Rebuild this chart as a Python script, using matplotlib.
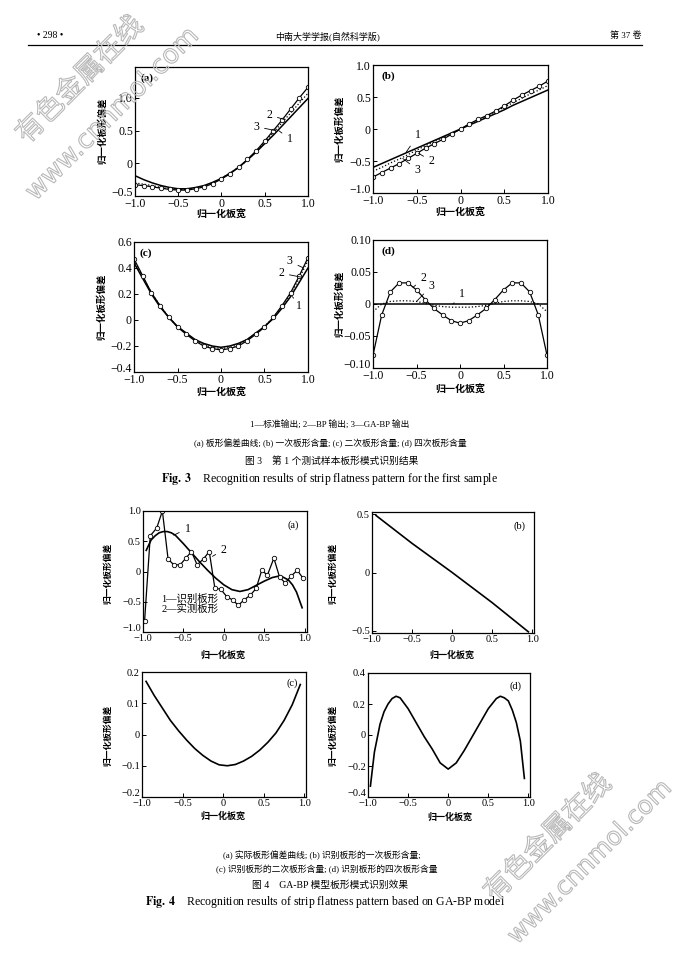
import matplotlib
matplotlib.use("Agg")
import matplotlib.pyplot as plt
import matplotlib.patheffects as pe
from matplotlib.transforms import ScaledTranslation

plt.rcParams['font.family'] = ['Liberation Serif', 'Noto Sans CJK SC']
plt.rcParams['mathtext.fontset'] = 'stix'
plt.rcParams['axes.unicode_minus'] = True

W, H = 680, 961

# ---- data, fig 3 (first test sample) ----
X3 = [-1.0, -0.9, -0.8, -0.7, -0.6, -0.5, -0.4, -0.3, -0.2, -0.1, 0.0,
      0.1, 0.2, 0.3, 0.4, 0.5, 0.6, 0.7, 0.8, 0.9, 1.0]

A_STD = [-0.19, -0.25, -0.30, -0.34, -0.37, -0.39, -0.39, -0.37, -0.34, -0.29, -0.23,
         -0.15, -0.06, 0.05, 0.17, 0.30, 0.43, 0.57, 0.71, 0.85, 0.99]
A_BP = [-0.33, -0.34, -0.36, -0.38, -0.40, -0.41, -0.41, -0.39, -0.36, -0.31, -0.24,
        -0.16, -0.06, 0.06, 0.19, 0.34, 0.50, 0.66, 0.83, 1.00, 1.16]
A_GA = [-0.30, -0.32, -0.34, -0.37, -0.39, -0.40, -0.40, -0.38, -0.35, -0.30, -0.23,
        -0.15, -0.06, 0.05, 0.18, 0.32, 0.47, 0.62, 0.77, 0.92, 1.07]

B_STD = [-0.60, -0.54, -0.48, -0.42, -0.36, -0.30, -0.24, -0.18, -0.12, -0.06, 0.00,
         0.06, 0.12, 0.18, 0.24, 0.30, 0.37, 0.43, 0.49, 0.55, 0.61]
B_BP = [-0.75, -0.68, -0.61, -0.54, -0.46, -0.38, -0.30, -0.23, -0.16, -0.08, 0.00,
        0.08, 0.15, 0.21, 0.28, 0.36, 0.45, 0.53, 0.60, 0.67, 0.75]
B_GA = [-0.66, -0.60, -0.53, -0.47, -0.40, -0.33, -0.26, -0.20, -0.13, -0.07, 0.00,
        0.07, 0.13, 0.20, 0.27, 0.34, 0.41, 0.48, 0.55, 0.61, 0.68]

C_STD = [0.44, 0.32, 0.20, 0.10, 0.02, -0.05, -0.10, -0.15, -0.18, -0.20, -0.21,
         -0.20, -0.18, -0.15, -0.10, -0.05, 0.01, 0.09, 0.18, 0.29, 0.40]
C_BP = [0.47, 0.34, 0.21, 0.11, 0.02, -0.055, -0.11, -0.16, -0.20, -0.22, -0.23,
        -0.22, -0.20, -0.16, -0.11, -0.055, 0.02, 0.11, 0.21, 0.34, 0.48]
C_GA = [0.46, 0.33, 0.21, 0.11, 0.02, -0.05, -0.11, -0.15, -0.19, -0.21, -0.22,
        -0.21, -0.19, -0.15, -0.11, -0.05, 0.02, 0.10, 0.20, 0.32, 0.46]

D_STD = [0.0] * 21
D_BP = [-0.080, -0.017, 0.019, 0.033, 0.033, 0.022, 0.007, -0.007, -0.017, -0.026, -0.030,
        -0.026, -0.017, -0.007, 0.007, 0.022, 0.033, 0.033, 0.019, -0.017, -0.080]
D_GA = [-0.012, 0.000, 0.004, 0.005, 0.005, 0.004, 0.001, -0.002, -0.004, -0.005, -0.005,
        -0.005, -0.004, -0.002, 0.001, 0.004, 0.005, 0.005, 0.004, 0.000, -0.012]

# ---- data, fig 4 (GA-BP model) ----
X4A_MEAS = [-0.98, -0.91, -0.83, -0.76, -0.69, -0.62, -0.54, -0.47, -0.40, -0.33,
            -0.25, -0.18, -0.11, -0.04, 0.04, 0.11, 0.18, 0.25, 0.33, 0.40,
            0.47, 0.54, 0.62, 0.69, 0.76, 0.83, 0.91, 0.98]
Y4A_MEAS = [-0.81, 0.59, 0.72, 1.00, 0.21, 0.11, 0.11, 0.22, 0.33, 0.11,
            0.21, 0.33, -0.28, -0.29, -0.42, -0.47, -0.56, -0.47, -0.39, -0.28,
            0.02, -0.06, 0.22, -0.09, -0.19, -0.08, 0.02, -0.11]
X4A_ID = [-0.96, -0.9, -0.85, -0.8, -0.75, -0.7, -0.65, -0.6, -0.5, -0.4, -0.3, -0.2,
          -0.1, 0.0, 0.1, 0.2, 0.3, 0.4, 0.5, 0.6, 0.7, 0.8, 0.85, 0.9, 0.97]
Y4A_ID = [0.35, 0.52, 0.59, 0.64, 0.66, 0.66, 0.64, 0.60, 0.46, 0.31, 0.16, 0.02,
          -0.11, -0.22, -0.30, -0.33, -0.30, -0.23, -0.16, -0.10, -0.07, -0.14, -0.22,
          -0.34, -0.60]

X4B = [-0.95, -0.5, 0.0, 0.5, 0.95]
Y4B = [0.49, 0.25, 0.0, -0.26, -0.51]

X4C = [-0.95, -0.85, -0.75, -0.65, -0.55, -0.45, -0.35, -0.25, -0.15, -0.05,
       0.05, 0.15, 0.25, 0.35, 0.45, 0.55, 0.65, 0.75, 0.85, 0.95]
Y4C = [0.170, 0.125, 0.085, 0.045, 0.012, -0.018, -0.045, -0.067, -0.085, -0.097,
       -0.100, -0.096, -0.085, -0.070, -0.050, -0.025, 0.005, 0.045, 0.095, 0.160]

X4D = [-0.97, -0.92, -0.85, -0.8, -0.75, -0.7, -0.65, -0.6, -0.5, -0.4, -0.3, -0.2,
       -0.1, 0.0, 0.1, 0.2, 0.3, 0.4, 0.5, 0.6, 0.65, 0.7, 0.75, 0.8, 0.85, 0.9, 0.95]
Y4D = [-0.33, -0.11, 0.07, 0.15, 0.20, 0.235, 0.25, 0.24, 0.17, 0.08, -0.01, -0.09,
       -0.18, -0.22, -0.18, -0.10, -0.01, 0.08, 0.17, 0.235, 0.25, 0.24, 0.22, 0.16,
       0.08, -0.04, -0.28]

XTICKS = [-1.0, -0.5, 0.0, 0.5, 1.0]
XTICKLABELS = ['−1.0', '−0.5', '0', '0.5', '1.0']

YLABEL = '归一化板形偏差'
XLABEL = '归一化板宽'


def rect(l, t, r, b):
    return [l / W, 1 - b / H, (r - l) / W, (b - t) / H]


def style(ax, xlim, ylim, yticks, yticklabels, fs):
    ax.set_xlim(*xlim)
    ax.set_ylim(*ylim)
    ax.set_xticks(XTICKS)
    ax.set_xticklabels(XTICKLABELS)
    ax.set_yticks(yticks)
    ax.set_yticklabels(yticklabels)
    ax.tick_params(direction='in', length=3, width=0.7, labelsize=fs, pad=1.5)
    for s in ax.spines.values():
        s.set_linewidth(0.9)
    # lowest y label sits a little above the corner, as in the print
    if ylim[0] == yticks[0]:
        t = ax.get_yticklabels()[0]
        t.set_transform(t.get_transform() + ScaledTranslation(0, 3.5 / 72, fig.dpi_scale_trans))


def lbl(ax, text, xy, xytext):
    ax.annotate(text, xy=xy, xytext=xytext, fontsize=8.5, ha='center', va='center',
                arrowprops=dict(arrowstyle='-', lw=0.6, shrinkA=2, shrinkB=0))


circ = dict(marker='o', ms=3.2, mfc='white', mec='black', mew=0.6)

fig = plt.figure(figsize=(W / 100, H / 100), dpi=100)

# header
fig.text(50 / W, 1 - 36 / H, '• 298 •', fontsize=7, ha='center', va='center')
fig.text(328 / W, 1 - 36 / H, '中南大学学报(自然科学版)', fontsize=6.5, ha='center', va='center')
fig.text(642 / W, 1 - 36 / H, '第 37 卷', fontsize=6.5, ha='right', va='center')
fig.add_artist(plt.Line2D([28 / W, 642 / W], [1 - 45 / H, 1 - 45 / H], color='black', lw=0.9))

# ---------- Fig 3 ----------
ax = fig.add_axes(rect(135, 67, 308, 196))
ax.plot(X3, A_STD, color='black', lw=1.1)
ax.plot(X3, A_GA, color='black', lw=0.9, ls=':')
ax.plot(X3, A_BP, color='black', lw=0.9, **circ)
style(ax, (-1, 1), (-0.5, 1.47), [-0.5, 0, 0.5, 1.0], ['−0.5', '0', '0.5', '1.0'], 8.5)
ax.text(0.03, 0.95, '(a)', transform=ax.transAxes, fontsize=8, fontweight='bold', va='top')
lbl(ax, '2', (0.72, 0.67), (0.55, 0.74))
lbl(ax, '3', (0.62, 0.50), (0.40, 0.56))
lbl(ax, '1', (0.66, 0.50), (0.79, 0.37))

ax = fig.add_axes(rect(373, 65, 548, 193))
ax.plot(X3, B_STD, color='black', lw=1.1)
ax.plot(X3, B_GA, color='black', lw=0.9, ls=':')
ax.plot(X3, B_BP, color='black', lw=0.9, **circ)
style(ax, (-1, 1), (-1, 1), [-1.0, -0.5, 0, 0.5, 1.0], ['−1.0', '−0.5', '0', '0.5', '1.0'], 8.5)
ax.text(0.05, 0.95, '(b)', transform=ax.transAxes, fontsize=8, fontweight='bold', va='top')
lbl(ax, '1', (-0.62, -0.36), (-0.49, -0.10))
lbl(ax, '2', (-0.48, -0.38), (-0.33, -0.50))
lbl(ax, '3', (-0.66, -0.46), (-0.49, -0.64))

ax = fig.add_axes(rect(134, 242, 308, 372))
ax.plot(X3, C_STD, color='black', lw=1.1)
ax.plot(X3, C_GA, color='black', lw=0.9, ls=':')
ax.plot(X3, C_BP, color='black', lw=0.9, **circ)
style(ax, (-1, 1), (-0.4, 0.6), [-0.4, -0.2, 0, 0.2, 0.4, 0.6],
      ['−0.4', '−0.2', '0', '0.2', '0.4', '0.6'], 8.5)
ax.text(0.03, 0.95, '(c)', transform=ax.transAxes, fontsize=8, fontweight='bold', va='top')
lbl(ax, '3', (0.95, 0.40), (0.79, 0.45))
lbl(ax, '2', (0.92, 0.33), (0.69, 0.36))
lbl(ax, '1', (0.82, 0.18), (0.90, 0.11))

ax = fig.add_axes(rect(373, 240, 547, 368))
ax.plot(X3, D_STD, color='black', lw=1.1)
ax.plot(X3, D_GA, color='black', lw=0.9, ls=':')
ax.plot(X3, D_BP, color='black', lw=0.9, **circ)
style(ax, (-1, 1), (-0.1, 0.1), [-0.10, -0.05, 0, 0.05, 0.10],
      ['−0.10', '−0.05', '0', '0.05', '0.10'], 8.5)
ax.text(0.05, 0.95, '(d)', transform=ax.transAxes, fontsize=8, fontweight='bold', va='top')
lbl(ax, '2', (-0.54, 0.026), (-0.42, 0.040))
lbl(ax, '3', (-0.50, 0.004), (-0.33, 0.028))
lbl(ax, '1', (-0.08, 0.0), (0.02, 0.015))

for (x, y) in [(102, 131), (339, 129), (101, 307), (339, 304)]:
    fig.text(x / W, 1 - y / H, YLABEL, rotation=90, fontsize=6.8, fontweight='bold',
             ha='center', va='center')
for (x, y) in [(221, 215), (460, 213), (221, 393), (460, 390)]:
    fig.text(x / W, 1 - y / H, XLABEL, fontsize=7.2, fontweight='bold', ha='center', va='center')

fig.text(330 / W, 1 - 425 / H, '1—标准输出; 2—BP 输出; 3—GA-BP 输出', fontsize=6.3,
         ha='center', va='center')
fig.text(330 / W, 1 - 443 / H, '(a) 板形偏差曲线; (b) 一次板形含量; (c) 二次板形含量; (d) 四次板形含量',
         fontsize=6.3, ha='center', va='center')
fig.text(332 / W, 1 - 461 / H, '图 3    第 1 个测试样本板形模式识别结果', fontsize=7,
         ha='center', va='center')
fig.text(330 / W, 1 - 479 / H, r'$\mathbf{Fig.\ 3}$    Recognition results of strip flatness pattern for the first sample',
         fontsize=8.5, ha='center', va='center')

# ---------- Fig 4 ----------
ax = fig.add_axes(rect(143, 511, 307, 632))
ax.plot(X4A_ID, Y4A_ID, color='black', lw=1.2)
ax.plot(X4A_MEAS, Y4A_MEAS, color='black', lw=0.9, **circ)
style(ax, (-1, 1.03), (-1, 1), [-1.0, -0.5, 0, 0.5, 1.0], ['−1.0', '−0.5', '0', '0.5', '1.0'], 7.5)
ax.text(0.95, 0.92, '(a)', transform=ax.transAxes, fontsize=7.5, ha='right', va='top')
lbl(ax, '1', (-0.62, 0.60), (-0.45, 0.71))
lbl(ax, '2', (-0.14, 0.25), (0.0, 0.36))
ax.text(-0.77, -0.45, '1—识别板形', fontsize=7.5, va='center')
ax.text(-0.77, -0.61, '2—实测板形', fontsize=7.5, va='center')

ax = fig.add_axes(rect(372, 512, 534, 633))
ax.plot(X4B, Y4B, color='black', lw=1.2)
style(ax, (-1, 1.02), (-0.52, 0.52), [-0.5, 0, 0.5], ['−0.5', '0', '0.5'], 7.5)
ax.text(0.95, 0.92, '(b)', transform=ax.transAxes, fontsize=7.5, ha='right', va='top')

ax = fig.add_axes(rect(142, 672, 306, 797))
ax.plot(X4C, Y4C, color='black', lw=1.2)
style(ax, (-1, 1.02), (-0.2, 0.2), [-0.2, -0.1, 0, 0.1, 0.2], ['−0.2', '−0.1', '0', '0.1', '0.2'], 7.5)
ax.text(0.95, 0.95, '(c)', transform=ax.transAxes, fontsize=7.5, ha='right', va='top')

ax = fig.add_axes(rect(368, 673, 530, 797))
ax.plot(X4D, Y4D, color='black', lw=1.2)
style(ax, (-1, 1.02), (-0.4, 0.4), [-0.4, -0.2, 0, 0.2, 0.4], ['−0.4', '−0.2', '0', '0.2', '0.4'], 7.5)
ax.text(0.95, 0.93, '(d)', transform=ax.transAxes, fontsize=7.5, ha='right', va='top')

for (x, y) in [(108, 573), (333, 573), (108, 735), (333, 735)]:
    fig.text(x / W, 1 - y / H, YLABEL, rotation=90, fontsize=6.3, fontweight='bold',
             ha='center', va='center')
for (x, y) in [(223, 655), (452, 655), (223, 816), (450, 817)]:
    fig.text(x / W, 1 - y / H, XLABEL, fontsize=6.5, fontweight='bold', ha='center', va='center')

fig.text(322 / W, 1 - 855 / H, '(a) 实际板形偏差曲线; (b) 识别板形的一次板形含量;', fontsize=6.3,
         ha='center', va='center')
fig.text(327 / W, 1 - 870 / H, '(c) 识别板形的二次板形含量; (d) 识别板形的四次板形含量', fontsize=6.3,
         ha='center', va='center')
fig.text(330 / W, 1 - 885 / H, '图 4    GA-BP 模型板形模式识别效果', fontsize=7,
         ha='center', va='center')
fig.text(325 / W, 1 - 902 / H, r'$\mathbf{Fig.\ 4}$    Recognition results of strip flatness pattern based on GA-BP model',
         fontsize=8.5, ha='center', va='center')

# watermarks (hollow outline text)
outline = [pe.withStroke(linewidth=0.8, foreground='#b8b8b8')]
for (x, y, t, fs) in [(80, 80, '有色金属在线', 20), (113, 114, 'www.cnnmol.com', 19),
                      (548, 838, '有色金属在线', 20), (590, 862, 'www.cnnmol.com', 18)]:
    fig.text(x / W, 1 - y / H, t, rotation=45, fontsize=fs, color=(1, 1, 1, 0),
             family=['DejaVu Sans', 'Noto Sans CJK SC'], ha='center', va='center',
             rotation_mode='anchor', path_effects=outline, zorder=10)

plt.savefig('out.png', dpi=100)
